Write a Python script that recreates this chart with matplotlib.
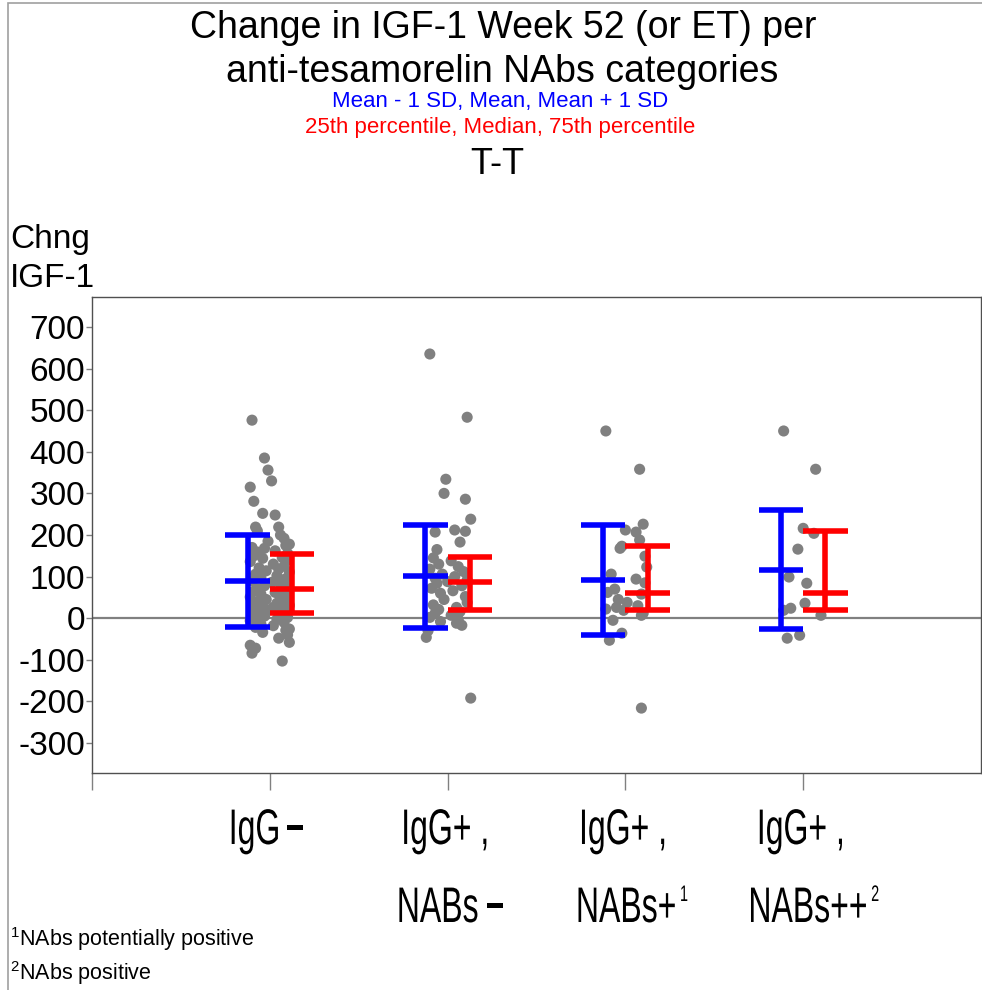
import matplotlib
matplotlib.use("Agg")
import matplotlib.pyplot as plt
from matplotlib.patches import Rectangle, PathPatch
from matplotlib.textpath import TextPath
from matplotlib.font_manager import FontProperties
from matplotlib.transforms import Affine2D
import numpy as np

# Cambio en IGF-1 por categoría de anticuerpos
categorias_l1 = ["IgG\u2212", "IgG+ ,", "IgG+ ,", "IgG+ ,"]
categorias_l2 = ["", "NABs\u2212", "NABs+", "NABs++"]
superindices = ["", "", "1", "2"]

valores_g1 = [476, 385, 356, 330, 315, 281, 252, 248, 219, 219, 210, 200, 192, 185, 178,
              175, 170, 168, 162, 159, 156,
              150, 146, 144, 140, 136, 130, 125, 121, 118, 114, 111, 106, 102, 98, 95,
              90, 86, 82, 78, 74, 71,
              68, 65, 62, 58, 55, 51, 48, 45, 42, 39, 36, 33, 31, 28, 26, 24, 22, 20,
              17, 15, 13,
              10, 8, 5, 2, 0, -3, -6, -10, -14, -18, -22, -26, -29, -34, -40, -48, -58,
              -65, -72, -84, -103]
jitter_g1 = [-0.10, -0.03, -0.01, 0.01, -0.11, -0.09, -0.04, 0.03, -0.08, 0.05, -0.07,
             0.06, 0.08, -0.01, 0.11, 0.09, -0.10, -0.03, 0.03, -0.07, 0.10,
             -0.09, 0.07, -0.04, 0.10, -0.11, 0.02, 0.08, -0.06, 0.05, -0.02, 0.11,
             -0.08, 0.04, -0.05, 0.09, -0.10, 0.01, 0.06, -0.03, 0.10, -0.07,
             0.08, -0.09, 0.03, -0.05, 0.10, -0.11, 0.06, -0.02, 0.09, -0.07, 0.04,
             -0.10, 0.11, -0.04, 0.02, -0.08, 0.07, -0.01, 0.10, -0.06, 0.05,
             -0.09, 0.06, -0.03, 0.10, -0.07, 0.04, -0.11, 0.08, -0.05, 0.02, -0.08,
             0.11, 0.09, -0.04, 0.10, 0.05, 0.11, -0.11, -0.08, -0.10, 0.07]

valores_g2 = [635, 483, 334, 300, 286, 238, 212, 209, 207, 183, 165,
              145, 138, 130, 124, 118, 112, 106, 100, 96, 92, 88,
              84, 78, 72, 66, 60, 52, 45, 38, 32, 26, 21,
              16, 12, 7, 2, -3, -8, -12, -17, -30, -46, -192]
jitter_g2 = [-0.10, 0.11, -0.01, -0.02, 0.10, 0.13, 0.04, 0.10, -0.07, 0.07, -0.06,
             -0.08, 0.02, -0.05, 0.06, -0.10, 0.09, -0.03, 0.04, -0.07, 0.11, 0.00,
             -0.06, 0.08, -0.09, 0.03, -0.04, 0.10, -0.02, 0.11, -0.08, 0.05, -0.05,
             0.07, -0.07, 0.02, -0.10, 0.06, -0.04, 0.05, 0.08, -0.11, -0.12, 0.13]

valores_g3 = [450, 358, 226, 212, 207, 188, 173, 168, 149, 123, 106, 94, 85, 70,
              62, 58, 45, 38, 30, 26, 22, 19, 12, 7, -5, -36, -53, -216]
jitter_g3 = [-0.11, 0.08, 0.10, 0.00, 0.06, 0.08, -0.02, -0.03, 0.11, 0.12, -0.08,
             0.06, 0.11, -0.06, -0.10, 0.09, -0.04, 0.01, 0.07, -0.05, -0.11, -0.01,
             0.10, 0.09, -0.07, -0.02, -0.09, 0.09]

valores_g4 = [450, 358, 216, 204, 166, 99, 84, 24, 19, 36, 7, -48, -41]
jitter_g4 = [-0.11, 0.07, 0.00, 0.06, -0.03, -0.08, 0.02, -0.07, -0.11, 0.01, 0.10,
             -0.09, -0.02]

# media y desviación estándar por grupo
medias = [89, 101, 91, 117]
desv = [111, 124, 132, 143]
# percentiles 25, 50, 75 por grupo
p25 = [12, 19, 19, 19]
medianas = [70, 87, 60, 60]
p75 = [154, 147, 173, 209]

yticks = [700, 600, 500, 400, 300, 200, 100, 0, -100, -200, -300]

fuente = "Liberation Sans"
plt.rcParams["font.family"] = [fuente, "DejaVu Sans"]
plt.rcParams["mathtext.fontset"] = "custom"
plt.rcParams["mathtext.rm"] = fuente
plt.rcParams["mathtext.default"] = "regular"

fig = plt.figure(figsize=(9.82, 9.90), dpi=100)
fig.patch.set_facecolor("white")

# marco gris de la figura
fig.patches.append(Rectangle((8 / 982, -0.1), 1.2, 1.1 - 3 / 990,
                             transform=fig.transFigure, fill=False,
                             edgecolor="#a0a0a0", linewidth=1.2))

ax = fig.add_axes([92 / 982, 1 - 773 / 990, (981 - 92) / 982, (773 - 297) / 990])

grupos = [(valores_g1, jitter_g1), (valores_g2, jitter_g2),
          (valores_g3, jitter_g3), (valores_g4, jitter_g4)]
for i, (vals, jit) in enumerate(grupos, start=1):
    x = i + np.asarray(jit)
    ax.scatter(x, vals, s=64, color="#808080", edgecolors="none", zorder=2)

ax.axhline(0, color="#808080", linewidth=1.6, zorder=1)

desp = 0.125
media_arr = np.asarray(medias)
sd_arr = np.asarray(desv)
xs = np.arange(1, 5)

# barras azules: media -1 SD, media, media +1 SD
for xb, lo, m, hi in zip(xs - desp, media_arr - sd_arr, media_arr, media_arr + sd_arr):
    ax.vlines(xb, lo, hi, color="#0000ff", linewidth=4, zorder=3)
    ax.hlines([lo, m, hi], xb - desp, xb + desp, color="#0000ff", linewidth=4, zorder=3)

# barras rojas: percentil 25, mediana, percentil 75
for xr, lo, m, hi in zip(xs + desp, p25, medianas, p75):
    ax.vlines(xr, lo, hi, color="#ff0000", linewidth=4, zorder=4)
    ax.hlines([lo, m, hi], xr - desp, xr + desp, color="#ff0000", linewidth=4, zorder=4)

ax.set_xlim(0, 5)
ax.set_ylim(-372, 772)
ax.set_yticks(yticks)
ax.set_yticklabels([str(v) for v in yticks], fontsize=24, family=fuente)
ax.set_xticks([0, 1, 2, 3, 4])
ax.set_xticklabels([])
ax.tick_params(axis="y", length=4, width=1, color="#808080", pad=1)
ax.tick_params(axis="x", length=12, width=1, color="#808080")
for lado in ax.spines.values():
    lado.set_color("#505050")
    lado.set_linewidth(1)

prop_normal = FontProperties(family=fuente)
prop_negrita = FontProperties(family=fuente, weight="bold")


def texto_estrecho(texto, x_px, y_px, sx=32, sy=50, sup="", sup_esc=0.45):
    """Dibuja texto comprimido horizontalmente, centrado en (x_px, y_px) en píxeles."""
    # el signo menos final va en negrita y separado, como una barra gruesa
    piezas = []
    if texto.endswith("\u2212"):
        piezas.append((TextPath((0, 0), texto[:-1], size=1, prop=prop_normal), 1.0, 0.0))
        piezas.append((TextPath((0, 0), "\u2212", size=1, prop=prop_negrita), 1.0, 0.2))
    else:
        piezas.append((TextPath((0, 0), texto, size=1, prop=prop_normal), 1.0, 0.0))
    if sup:
        piezas.append((TextPath((0, 0), sup, size=1, prop=prop_normal), sup_esc, 0.25))

    anchos = []
    for tp, esc, hueco in piezas:
        ext = tp.get_extents()
        anchos.append(ext.x1 * esc + hueco * esc + 0.05)
    total = sum(anchos) * sx
    x = x_px - total / 2
    y0 = y_px - 0.36 * sy
    for (tp, esc, hueco), ancho in zip(piezas, anchos):
        dx = hueco * sx * esc
        dy = 0.42 * sy if esc < 1 else 0.0
        tr = Affine2D().scale(sx * esc, sy * esc).translate(x + dx, y0 + dy)
        fig.patches.append(PathPatch(tp, transform=tr, facecolor="black",
                                     edgecolor="none"))
        x += ancho * sx


alto_fig = 990
for i, (l1, l2, s) in enumerate(zip(categorias_l1, categorias_l2, superindices), start=1):
    x_px = ax.transData.transform((i, 0))[0]
    texto_estrecho(l1, x_px - 3, alto_fig - 826)
    if l2:
        texto_estrecho(l2, x_px + 3 + 4 * (i - 2), alto_fig - 904, sup=s)

fig.text(0.512, 0.972, "Change in IGF-1 Week 52 (or ET) per", ha="center", va="center",
         fontsize=27)
fig.text(0.511, 0.927, "anti-tesamorelin NAbs categories", ha="center", va="center",
         fontsize=27)
fig.text(0.509, 0.897, "Mean - 1 SD, Mean, Mean + 1 SD", ha="center", va="center",
         fontsize=16, color="#0000ff")
fig.text(0.509, 0.871, "25th percentile, Median, 75th percentile", ha="center",
         va="center", fontsize=16, color="#ff0000")
fig.text(0.506, 0.834, "T-T", ha="center", va="center", fontsize=26)
fig.text(0.01, 0.758, "Chng", ha="left", va="center", fontsize=24)
fig.text(0.01, 0.719, "IGF-1", ha="left", va="center", fontsize=24)

fig.text(0.01, 0.051, "$^{1}$NAbs potentially positive", ha="left", va="center",
         fontsize=15.5)
fig.text(0.01, 0.017, "$^{2}$NAbs positive", ha="left", va="center", fontsize=15.5)

fig.savefig("out.png", dpi=100)
